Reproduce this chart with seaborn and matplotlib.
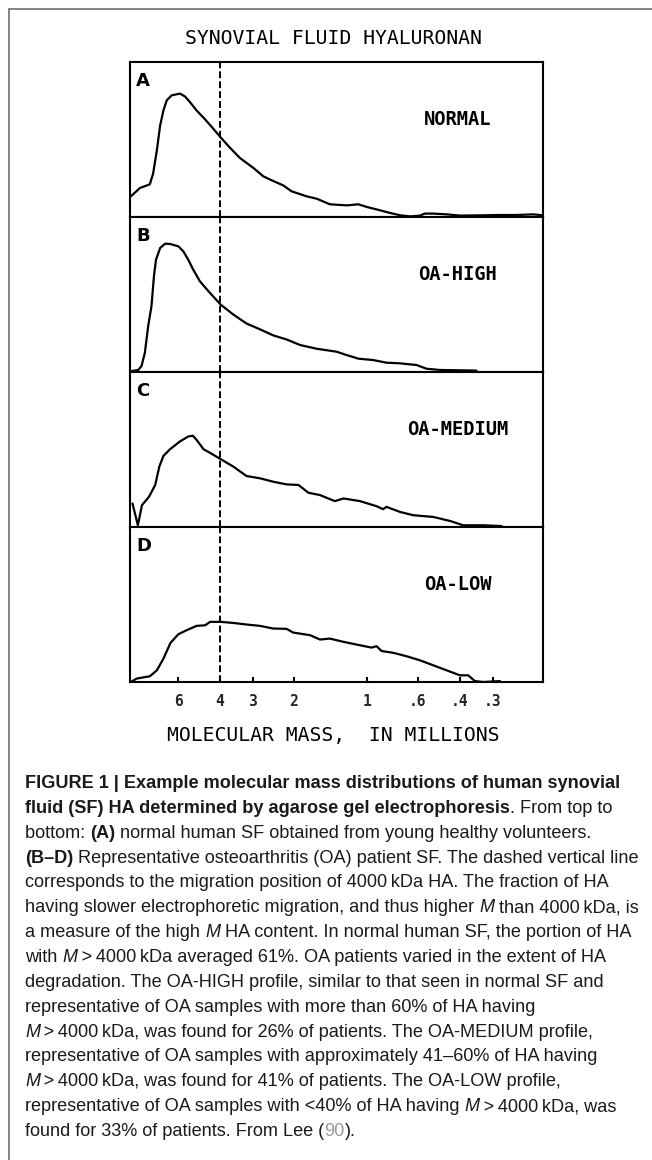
import matplotlib
matplotlib.use("Agg")
import matplotlib.pyplot as plt
import numpy as np
import pandas as pd
import seaborn as sns
from matplotlib.lines import Line2D
from matplotlib.font_manager import FontProperties

# ---------------- data ----------------
# x = electrophoretic migration distance (0-100, arbitrary units), y = relative intensity (0-100)
normal_x = [0.2, 2.4, 4.8, 5.6, 6.5, 7.3, 8.1, 8.9, 10.1, 12.1, 13.3, 14.5, 16.1, 17.8, 19.8,
            22.0, 24.2, 26.6, 29.9, 32.3, 34.7, 37.1, 39.1, 42.8, 45.2, 48.4, 52.5, 55.3, 57.3,
            59.7, 63.0, 65.4, 67.8, 70.2, 71.4, 73.4, 76.7, 79.9, 85.6, 89.6, 93.6, 97.7, 99.9]
normal_y = [13.3, 18.7, 21.1, 28.0, 43.0, 59.1, 68.8, 75.3, 78.5, 79.6, 77.8, 74.2, 68.8, 64.1, 58.1,
            51.2, 44.7, 38.1, 31.6, 26.2, 23.2, 20.4, 16.6, 13.3, 11.8, 8.2, 7.5, 8.2, 6.5,
            4.9, 2.6, 1.1, 0.4, 0.9, 2.2, 2.2, 1.7, 0.9, 1.1, 1.3, 1.3, 1.7, 1.1]

high_x = [0.4, 2.0, 2.8, 3.6, 4.4, 5.2, 5.8, 6.3, 7.3, 8.5, 9.7, 11.7, 12.9, 14.1, 15.3, 16.9,
          19.0, 21.9, 25.0, 28.2, 31.5, 34.7, 37.9, 41.2, 45.2, 50.0, 52.5, 55.3, 58.9, 62.1,
          65.4, 69.4, 71.8, 75.1, 79.9, 83.9]
high_y = [0.6, 1.3, 3.9, 12.4, 29.6, 42.5, 61.8, 72.5, 80.0, 82.8, 82.6, 81.1, 77.9, 72.5, 66.1, 58.6,
          52.1, 43.6, 37.1, 31.3, 27.5, 23.6, 21.0, 17.4, 15.0, 13.1, 10.9, 8.6, 7.7, 6.0,
          5.6, 4.5, 2.1, 1.3, 1.1, 0.9]

medium_x = [0.6, 1.9, 2.9, 4.6, 6.1, 7.1, 8.1, 9.7, 12.1, 14.1, 15.2, 16.1, 17.8, 19.8, 22.0,
            25.0, 28.2, 31.5, 34.7, 37.9, 40.8, 43.2, 46.0, 49.6, 51.7, 55.7, 59.7, 61.3, 62.1,
            65.4, 68.6, 73.4, 77.5, 80.7, 85.6, 90.0]
medium_y = [15.2, 1.1, 14.1, 19.5, 27.1, 39.0, 45.9, 50.2, 55.2, 58.4, 58.9, 56.3, 50.2, 47.2, 43.7,
            39.0, 32.9, 31.4, 29.2, 27.5, 27.1, 22.1, 20.6, 16.7, 18.4, 16.7, 13.4, 11.5, 13.0,
            9.7, 7.6, 6.5, 3.9, 1.1, 1.1, 0.6]

low_x = [0.2, 1.6, 4.8, 6.5, 8.1, 9.8, 11.7, 13.7, 16.1, 18.2, 19.4, 22.0, 25.0, 28.2, 31.5,
         34.7, 37.9, 39.5, 43.6, 46.0, 48.4, 51.7, 55.7, 58.5, 59.7, 60.9, 63.8, 67.0, 70.2,
         73.4, 76.7, 79.9, 81.9, 83.5, 85.6, 89.6]
low_y = [0.0, 2.2, 3.7, 7.5, 15.1, 25.2, 30.8, 33.4, 36.2, 36.6, 38.8, 38.8, 38.1, 37.1, 36.2,
         34.5, 34.3, 31.9, 30.2, 27.4, 28.0, 25.9, 23.7, 22.2, 23.1, 20.0, 18.8, 16.6, 14.0,
         10.8, 7.5, 4.3, 4.3, 0.6, 0.0, 0.6]

panel_letters = ["A", "B", "C", "D"]
panel_names = ["NORMAL", "OA-HIGH", "OA-MEDIUM", "OA-LOW"]

# molecular-mass ticks (millions) and their migration positions
tick_labels = ["6", "4", "3", "2", "1", ".6", ".4", ".3"]
tick_migration = [11.7, 21.8, 29.7, 39.7, 57.5, 69.7, 79.9, 87.8]
marker_migration = 21.9   # migration position of 4000 kDa HA

title_text = "SYNOVIAL FLUID HYALURONAN"
xlabel_text = "MOLECULAR MASS,  IN MILLIONS"

caption_lines = [
    [("FIGURE 1 | Example molecular mass distributions of human synovial", "b")],
    [("fluid (SF) HA determined by agarose gel electrophoresis", "b"), (". From top to", "r")],
    [("bottom: ", "r"), ("(A)", "b"), (" normal human SF obtained from young healthy volunteers.", "r")],
    [("(B\u2013D)", "b"), (" Representative osteoarthritis (OA) patient SF. The dashed vertical line", "r")],
    [("corresponds to the migration position of 4000\u2009kDa HA. The fraction of HA", "r")],
    [("having slower electrophoretic migration, and thus higher ", "r"), ("M", "i"), (" than 4000\u2009kDa, is", "r")],
    [("a measure of the high ", "r"), ("M", "i"), (" HA content. In normal human SF, the portion of HA", "r")],
    [("with ", "r"), ("M", "i"), ("\u2009>\u20094000\u2009kDa averaged 61%. OA patients varied in the extent of HA", "r")],
    [("degradation. The OA-HIGH profile, similar to that seen in normal SF and", "r")],
    [("representative of OA samples with more than 60% of HA having", "r")],
    [("M", "i"), ("\u2009>\u20094000\u2009kDa, was found for 26% of patients. The OA-MEDIUM profile,", "r")],
    [("representative of OA samples with approximately 41\u201360% of HA having", "r")],
    [("M", "i"), ("\u2009>\u20094000\u2009kDa, was found for 41% of patients. The OA-LOW profile,", "r")],
    [("representative of OA samples with <40% of HA having ", "r"), ("M", "i"), ("\u2009>\u20094000\u2009kDa, was", "r")],
    [("found for 33% of patients. From Lee (", "r"), ("90", "g"), (").", "r")],
]

# ---------------- figure ----------------
sns.set_theme(style="white")
plt.rcParams["font.family"] = ["DejaVu Sans"]

W, H = 652, 1160
fig = plt.figure(figsize=(W / 100, H / 100), dpi=100)
fig.patch.set_facecolor("white")

MONO = "DejaVu Sans Mono"
series = [(normal_x, normal_y), (high_x, high_y), (medium_x, medium_y), (low_x, low_y)]

ax_left, ax_w, ax_top0, ax_h = 130, 413, 62, 155
for i, ((xs, ys), letter, name) in enumerate(zip(series, panel_letters, panel_names)):
    top = ax_top0 + ax_h * i
    ax = fig.add_axes([ax_left / W, 1 - (top + ax_h) / H, ax_w / W, ax_h / H])
    df = pd.DataFrame({"migration": xs, "intensity": ys})
    sns.lineplot(data=df, x="migration", y="intensity", ax=ax, color="black",
                 lw=1.6, sort=False, estimator=None)
    ax.axvline(marker_migration, color="black", lw=1.4, ls=(0, (3.5, 1.6)))
    ax.set_xlim(0, 100)
    ax.set_ylim(0, 100)
    ax.set_xlabel("")
    ax.set_ylabel("")
    ax.set_yticks([])
    ax.set_facecolor("white")
    for sp in ax.spines.values():
        sp.set_visible(True)
        sp.set_color("black")
        sp.set_linewidth(1.5)
    ax.text(0.0145, 0.935, letter, transform=ax.transAxes, ha="left", va="top",
            fontfamily="DejaVu Sans", fontweight="bold", fontsize=13, color="black")
    ax.text(0.794, 0.632, name, transform=ax.transAxes, ha="center", va="center",
            fontfamily=MONO, fontweight="bold", fontsize=13.5, color="black")
    if i == len(series) - 1:
        ax.set_xticks(tick_migration)
        ax.set_xticklabels(tick_labels)
        ax.tick_params(axis="x", bottom=True, direction="in", length=3.6, width=1.5,
                       color="black", pad=9, labelsize=10.5)
        for lab in ax.get_xticklabels():
            lab.set_fontfamily(MONO)
            lab.set_fontweight("bold")
    else:
        ax.set_xticks([])

fig.text(333 / W, 1 - 39 / H, title_text, ha="center", va="center",
         fontfamily=MONO, fontsize=14.2, color="black")
fig.text(333 / W, 1 - 735 / H, xlabel_text, ha="center", va="center",
         fontfamily=MONO, fontsize=14.2, color="black")

# outer frame (top and left edges visible)
fig.add_artist(Line2D([9 / W, 9 / W], [0, 1 - 9 / H], transform=fig.transFigure,
                      color="#6e6e6e", lw=1.2))
fig.add_artist(Line2D([9 / W, 1], [1 - 9 / H, 1 - 9 / H], transform=fig.transFigure,
                      color="#6e6e6e", lw=1.2))

# ---------------- caption ----------------
renderer = fig.canvas.get_renderer()
CAP_FAMILY = ["Liberation Sans", "DejaVu Sans"]


def make_fp(style, size):
    return FontProperties(family=CAP_FAMILY, size=size,
                          weight="bold" if style == "b" else "normal",
                          style="italic" if style == "i" else "normal")


def advance(s, fp):
    w1, _, _ = renderer.get_text_width_height_descent("|" + s + "|", fp, ismath=False)
    w0, _, _ = renderer.get_text_width_height_descent("||", fp, ismath=False)
    return w1 - w0


def line_width(segs, size):
    return sum(advance(t, make_fp(st, size)) for t, st in segs)


# fit caption size so the 7th line spans ~611 px like the reference
ref_size = 12.0
fs = ref_size * 611.0 / line_width(caption_lines[6], ref_size)

x0, y0, dy = 25, 788, 24.86
for k, segs in enumerate(caption_lines):
    x = x0
    y = y0 + dy * k
    for t, st in segs:
        fp = make_fp(st, fs)
        fig.text(x / W, 1 - y / H, t, fontproperties=fp, ha="left", va="baseline",
                 color="#9a9a9a" if st == "g" else "#1a1a1a")
        x += advance(t, fp)

fig.savefig("out.png", dpi=100, facecolor="white")
